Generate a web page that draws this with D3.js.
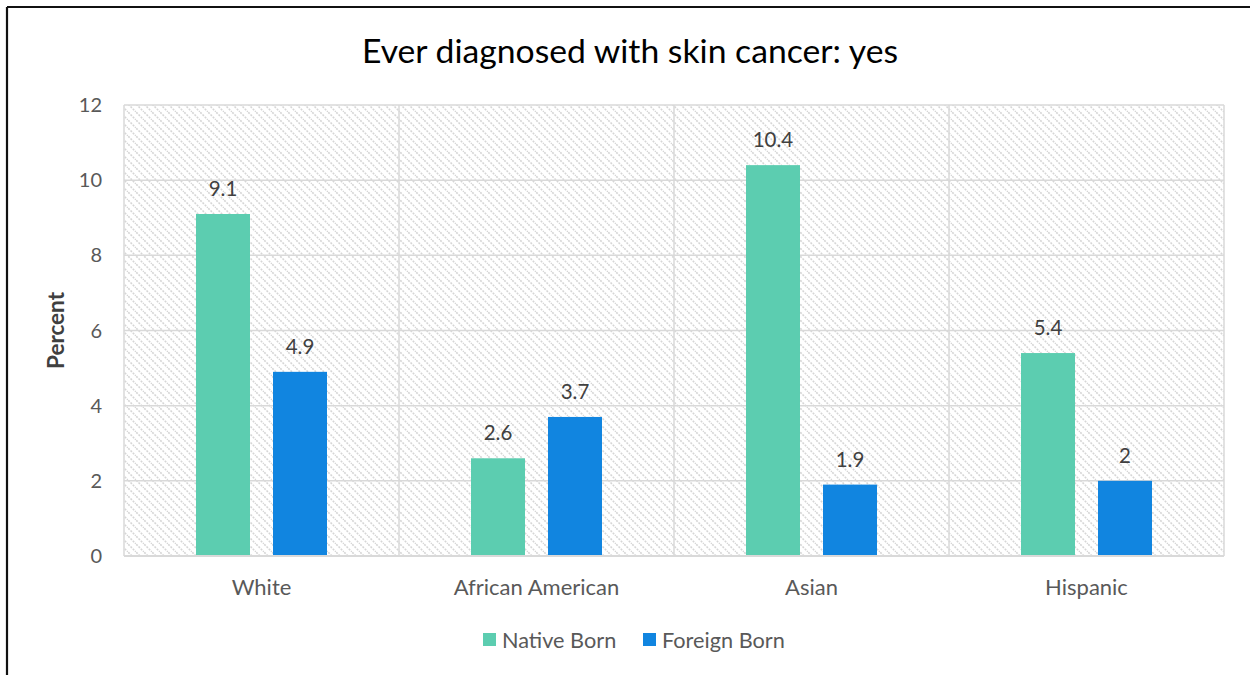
<!DOCTYPE html>
<html>
<head>
<meta charset="utf-8">
<script src="https://cdn.jsdelivr.net/npm/d3@7"></script>
<style>
  html, body { margin: 0; padding: 0; background: #fff; }
  svg { display: block; }
</style>
</head>
<body>
<svg id="chart" width="1250" height="675"></svg>
<script>
// Share of adults ever diagnosed with skin cancer, by group and nativity
const categories = ["White", "African American", "Asian", "Hispanic"];
const seriesNames = ["Native Born", "Foreign Born"];
const nativeBorn = [9.1, 2.6, 10.4, 5.4];
const foreignBorn = [4.9, 3.7, 1.9, 2];
const yTicks = [0, 2, 4, 6, 8, 10, 12];
const colors = ["#5ccdb0", "#1185e0"];

const font = "Lato, 'Open Sans', sans-serif";
const svg = d3.select("#chart");
const W = 1250, H = 675;
const plot = { left: 124, right: 1224, top: 105, bottom: 556 };

// Outer frame
svg.append("line").attr("x1", 7).attr("x2", W).attr("y1", 7).attr("y2", 7)
  .attr("stroke", "#111").attr("stroke-width", 2.2);
svg.append("line").attr("x1", 7).attr("x2", 7).attr("y1", 7).attr("y2", H)
  .attr("stroke", "#111").attr("stroke-width", 2.2);

// Diagonal hatch fill for the plotting area
const defs = svg.append("defs");
const pat = defs.append("pattern").attr("id", "hatch")
  .attr("patternUnits", "userSpaceOnUse").attr("width", 8).attr("height", 8);
pat.append("rect").attr("width", 8).attr("height", 8).attr("fill", "#fff");
pat.append("path").attr("d", "M-2,-2 L10,10 M-2,6 L2,10 M6,-2 L10,2")
  .attr("stroke", "#d6d6d6").attr("stroke-width", 1.6)
  .attr("stroke-dasharray", "2,1.2");

const x0 = d3.scaleBand().domain(categories).range([plot.left, plot.right]);
const x1 = d3.scaleBand().domain(seriesNames).range([0, x0.bandwidth()])
  .paddingInner(0.2987).paddingOuter(0.935);
const y = d3.scaleLinear().domain([0, 12]).range([plot.bottom, plot.top]);

svg.append("rect").attr("x", plot.left).attr("y", plot.top)
  .attr("width", plot.right - plot.left).attr("height", plot.bottom - plot.top)
  .attr("fill", "url(#hatch)");

// Horizontal gridlines
svg.append("g").selectAll("line").data(yTicks).join("line")
  .attr("x1", plot.left).attr("x2", plot.right)
  .attr("y1", d => y(d)).attr("y2", d => y(d))
  .attr("stroke", "#d9d9d9").attr("stroke-width", 1.5);

// Vertical category separators and plot edges
const seps = categories.map(c => x0(c)).concat([plot.right]);
svg.append("g").selectAll("line").data(seps).join("line")
  .attr("x1", d => d).attr("x2", d => d)
  .attr("y1", plot.top).attr("y2", plot.bottom)
  .attr("stroke", "#d9d9d9").attr("stroke-width", 1.5);

// Y axis tick labels
svg.append("g").selectAll("text").data(yTicks).join("text")
  .attr("x", plot.left - 22).attr("y", d => y(d)).attr("dy", "0.35em")
  .attr("text-anchor", "end").attr("font-family", font).attr("font-size", 20)
  .attr("fill", "#595959").text(d => d);

// Y axis title
svg.append("text")
  .attr("transform", `translate(64,${(plot.top + plot.bottom) / 2}) rotate(-90)`)
  .attr("text-anchor", "middle").attr("font-family", font).attr("font-size", 22.5)
  .attr("font-weight", "bold").attr("fill", "#404040").text("Percent");

// Bars
const rows = categories.map((c, i) => ({ cat: c, vals: [nativeBorn[i], foreignBorn[i]] }));
const groups = svg.append("g").selectAll("g").data(rows).join("g")
  .attr("transform", d => `translate(${x0(d.cat)},0)`);

groups.selectAll("rect").data(d => d.vals.map((v, j) => ({ s: seriesNames[j], v, j })))
  .join("rect")
  .attr("x", d => x1(d.s)).attr("width", x1.bandwidth())
  .attr("y", d => y(d.v)).attr("height", d => y(0) - y(d.v))
  .attr("fill", d => colors[d.j]);

// Value labels
groups.selectAll("text").data(d => d.vals.map((v, j) => ({ s: seriesNames[j], v, j })))
  .join("text")
  .attr("x", d => x1(d.s) + x1.bandwidth() / 2).attr("y", d => y(d.v) - 18)
  .attr("text-anchor", "middle").attr("font-family", font).attr("font-size", 20.5)
  .attr("fill", "#404040").text(d => d.v);

// Bottom axis line (redrawn on top of bars)
svg.append("line").attr("x1", plot.left).attr("x2", plot.right)
  .attr("y1", plot.bottom).attr("y2", plot.bottom)
  .attr("stroke", "#d9d9d9").attr("stroke-width", 2);

// Category labels
svg.append("g").selectAll("text").data(categories).join("text")
  .attr("x", d => x0(d) + x0.bandwidth() / 2).attr("y", 595)
  .attr("text-anchor", "middle").attr("font-family", font).attr("font-size", 22)
  .attr("fill", "#595959").text(d => d);

// Title
svg.append("text").attr("x", 630).attr("y", 63)
  .attr("text-anchor", "middle").attr("font-family", font).attr("font-size", 33.7)
  .attr("fill", "#000").text("Ever diagnosed with skin cancer: yes");

// Legend
const legendItems = [{ name: seriesNames[0], x: 483 }, { name: seriesNames[1], x: 643 }];
const lg = svg.append("g").selectAll("g").data(legendItems).join("g")
  .attr("transform", d => `translate(${d.x},633)`);
lg.append("rect").attr("width", 13).attr("height", 13)
  .attr("fill", (d, i) => colors[i]);
lg.append("text").attr("x", 19).attr("y", 7).attr("dy", "0.35em")
  .attr("font-family", font).attr("font-size", 21.7).attr("fill", "#595959")
  .text(d => d.name);
</script>
</body>
</html>
